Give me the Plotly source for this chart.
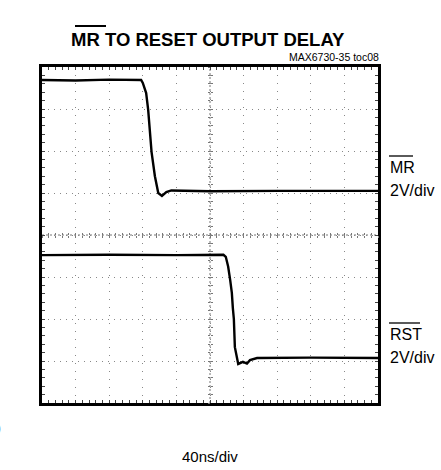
import plotly.graph_objects as go

# Data (screen divisions: x 0..10 div @ 40ns/div, y -4..4 div @ 2V/div)
mr_t = [0.0, 1.0, 2.0, 2.95, 3.0, 3.1, 3.16, 3.26, 3.36, 3.46, 3.57, 3.7, 3.85, 5.0, 7.0, 10.0]
mr_v = [3.69, 3.68, 3.70, 3.69, 3.62, 3.38, 2.98, 1.98, 1.40, 1.00, 0.93, 1.02, 1.06, 1.04, 1.05, 1.05]
rst_t = [0.0, 2.0, 4.0, 5.4, 5.47, 5.54, 5.6, 5.65, 5.68, 5.71, 5.74, 5.8, 5.84, 5.98, 6.1, 6.19, 6.4, 8.0, 10.0]
rst_v = [-0.48, -0.47, -0.48, -0.47, -0.52, -0.75, -1.07, -1.38, -1.74, -2.0, -2.67, -2.98, -3.07, -3.02, -3.06, -2.98, -2.93, -2.92, -2.93]

W, H = 441, 470
L, R, T, B = 42, 378, 67, 403


def px(x):
    return (x - L) / (R - L)


def py(y):
    return (B - y) / (B - T)


fig = go.Figure()
fig.add_trace(go.Scatter(x=mr_t, y=mr_v, mode="lines",
                         line=dict(color="black", width=2.4), hoverinfo="skip"))
fig.add_trace(go.Scatter(x=rst_t, y=rst_v, mode="lines",
                         line=dict(color="black", width=2.4), hoverinfo="skip"))
# bind center graticule axes
fig.add_trace(go.Scatter(x=[None], y=[None], xaxis="x3", yaxis="y3", showlegend=False))
fig.add_trace(go.Scatter(x=[None], y=[None], xaxis="x4", yaxis="y4", showlegend=False))

grid_col = "#888888"
common = dict(showticklabels=False, zeroline=False, fixedrange=True)

fig.update_layout(
    width=W, height=H,
    margin=dict(l=L, r=W - R, t=T, b=H - B, pad=0),
    paper_bgcolor="white", plot_bgcolor="white",
    showlegend=False,
    xaxis=dict(range=[0, 10], tickmode="linear", tick0=0, dtick=1,
               showgrid=True, gridcolor=grid_col, griddash="1px,7px", gridwidth=1,
               ticks="inside", ticklen=3, tickcolor="#444", tickwidth=1,
               minor=dict(tickmode="linear", tick0=0, dtick=0.2, ticks="inside",
                          ticklen=3, tickcolor="#444", showgrid=False),
               showline=True, linecolor="black", linewidth=3, mirror="allticks", **common),
    yaxis=dict(range=[-4, 4], tickmode="linear", tick0=0, dtick=1,
               showgrid=True, gridcolor=grid_col, griddash="1px,5px", gridwidth=1,
               ticks="inside", ticklen=3, tickcolor="#444", tickwidth=1,
               minor=dict(tickmode="linear", tick0=0, dtick=0.2, ticks="inside",
                          ticklen=3, tickcolor="#444", showgrid=False),
               showline=True, linecolor="black", linewidth=3, mirror="allticks", **common),
    xaxis3=dict(overlaying="x", anchor="free", position=0.5, range=[0, 10],
                tickmode="linear", tick0=0, dtick=0.2, ticks="inside", ticklen=2,
                tickcolor="#777", showgrid=False, showline=False, **common),
    yaxis3=dict(overlaying="y", anchor="free", position=0.5, range=[-4, 4],
                tickmode="linear", tick0=0, dtick=0.2, ticks="inside", ticklen=2,
                tickcolor="#777", showgrid=False, showline=False, **common),
    xaxis4=dict(overlaying="x", anchor="free", position=0.5, range=[0, 10],
                tickmode="linear", tick0=0, dtick=0.2, ticks="outside", ticklen=2,
                tickcolor="#777", showgrid=False, showline=False, **common),
    yaxis4=dict(overlaying="y", anchor="free", position=0.5, range=[-4, 4],
                tickmode="linear", tick0=0, dtick=0.2, ticks="outside", ticklen=2,
                tickcolor="#777", showgrid=False, showline=False, **common),
)

# center crosshair lines
fig.add_shape(type="line", xref="paper", yref="paper", x0=0, x1=1, y0=0.5, y1=0.5,
              line=dict(color="#777", width=1, dash="2px,2px"), layer="below")
fig.add_shape(type="line", xref="paper", yref="paper", x0=0.5, x1=0.5, y0=0, y1=1,
              line=dict(color="#777", width=1, dash="2px,2px"), layer="below")

narrow = "Liberation Sans Narrow, Arial Narrow, Liberation Sans, Arial, sans-serif"
reg = "Liberation Sans, Arial, sans-serif"

fig.add_annotation(text="<b>MR TO RESET OUTPUT DELAY</b>", xref="paper", yref="paper",
                   x=px(208), y=py(39), xanchor="center", yanchor="middle",
                   showarrow=False, font=dict(family=narrow, size=18.5, color="black"))
fig.add_annotation(text="MAX6730-35 toc08", xref="paper", yref="paper",
                   x=px(381), y=py(57), xanchor="right", yanchor="middle",
                   showarrow=False, font=dict(family=narrow, size=10.5, color="black"))
fig.add_annotation(text="MR", xref="paper", yref="paper", x=px(388), y=py(167),
                   xanchor="left", yanchor="middle", showarrow=False,
                   font=dict(family=reg, size=16, color="black"))
fig.add_annotation(text="2V/div", xref="paper", yref="paper", x=px(388), y=py(190),
                   xanchor="left", yanchor="middle", showarrow=False,
                   font=dict(family=reg, size=16, color="black"))
fig.add_annotation(text="RST", xref="paper", yref="paper", x=px(388), y=py(334),
                   xanchor="left", yanchor="middle", showarrow=False,
                   font=dict(family=reg, size=16, color="black"))
fig.add_annotation(text="2V/div", xref="paper", yref="paper", x=px(388), y=py(357),
                   xanchor="left", yanchor="middle", showarrow=False,
                   font=dict(family=reg, size=16, color="black"))
fig.add_annotation(text="40ns/div", xref="paper", yref="paper", x=px(210), y=py(456),
                   xanchor="center", yanchor="middle", showarrow=False,
                   font=dict(family=reg, size=15, color="black"))
fig.add_annotation(text=")", xref="paper", yref="paper", x=px(3), y=py(427),
                   xanchor="right", yanchor="middle", showarrow=False,
                   font=dict(family=reg, size=15, color="black"))

# overlines
for x0, x1, y, w in [(75, 106, 26, 2), (389, 413, 156, 1.3), (389, 420, 323, 1.3)]:
    fig.add_shape(type="line", xref="paper", yref="paper", x0=px(x0), x1=px(x1),
                  y0=py(y), y1=py(y), line=dict(color="black", width=w))

fig.write_html("out.html", config={"displayModeBar": False},
               post_script="document.body.style.margin='0';document.body.style.overflow='hidden';")
